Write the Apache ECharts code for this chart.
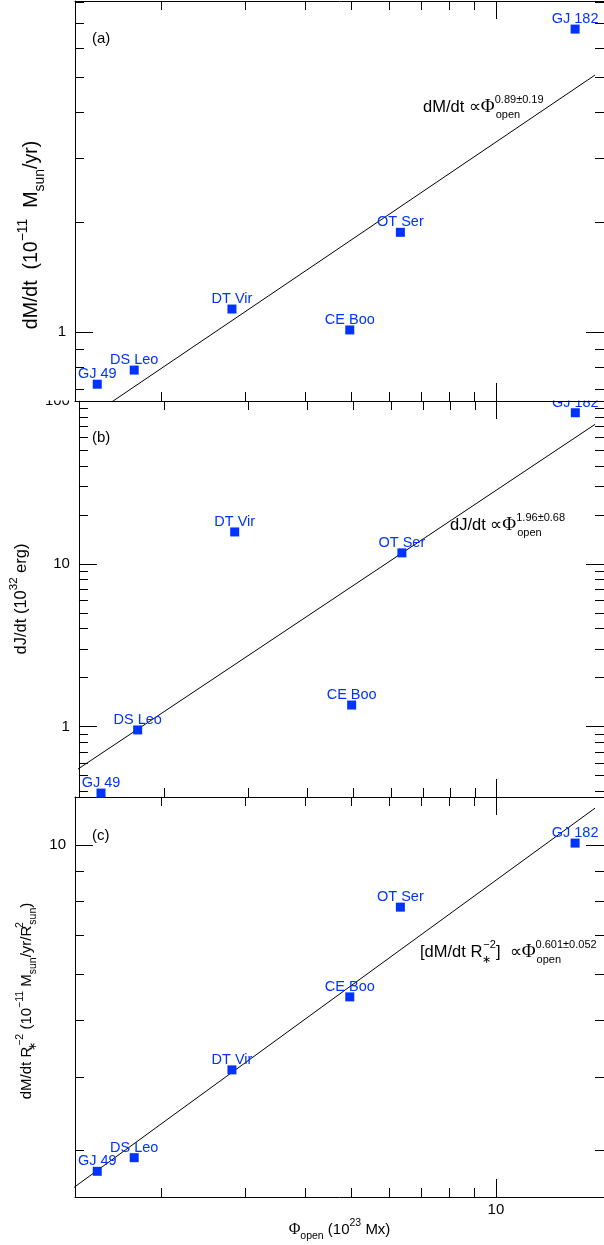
<!DOCTYPE html>
<html><head><meta charset="utf-8">
<script src="https://cdn.jsdelivr.net/npm/echarts@6/dist/echarts.min.js"></script>
<style>html,body{margin:0;padding:0;background:#fff}#c{width:604px;height:1245px}</style>
</head><body><div id="c"></div>
<script>
// ---------------- data ----------------
const stars = ['GJ 49', 'DS Leo', 'DT Vir', 'CE Boo', 'OT Ser', 'GJ 182'];
const phiOpen = [1.472, 1.758, 2.812, 4.954, 6.318, 14.63];          // 10^23 Mx
const massLoss = [0.721, 0.788, 1.158, 1.015, 1.878, 6.76];          // 10^-11 Msun/yr
const torque = [0.391, 0.955, 15.70, 1.358, 11.68, 84.7];            // 10^32 erg
const massLossPerArea = [2.756, 2.908, 4.113, 5.487, 7.82, 10.07];   // 10^-11 Msun/yr/Rsun^2
const fitMassLoss = [[1.30, 0.543], [16.1, 5.06]];
const fitTorque = [[1.30, 0.536], [16.1, 71.9]];
const fitMassLossPerArea = [[1.30, 2.567], [16.1, 11.56]];
const xRange = [1.3227, 16.81];
const yRanges = [[0.6486, 8.07], [0.370, 100], [2.490, 12.08]];
const xMajorTicks = [10];
const xMinorTicks = [2, 3, 4, 5, 6, 7, 8, 9];
const yMajorTicks = [[1], [1, 10, 100], [10]];
const yMinorTicks = [
  [0.7, 0.8, 0.9, 2, 3, 4, 5, 6, 7, 8],
  [0.4, 0.5, 0.6, 0.7, 0.8, 0.9, 2, 3, 4, 5, 6, 7, 8, 9, 20, 30, 40, 50, 60, 70, 80, 90],
  [3, 4, 5, 6, 7, 8, 9]
];
const panelLetters = ['(a)', '(b)', '(c)'];
const yTitles = [
  'dM/dt  (10{sup|\u221211}  M{sub|sun}/yr)',
  'dJ/dt (10{sup|32} erg)',
  'dM/dt R{subw|\u2217}{sup|\u22122} (10{sup|\u221211} M{sub|sun}/yr/R{supw|2}{sub|sun})'
];
const xTitle = '{phi|\u03a6}{sub|open} (10{sup|23} Mx)';
const fitTexts = [
  '{m|dM/dt \u221d}{phi|\u03a6}{supw|0.89\u00b10.19}{sub|open}',
  '{m|dJ/dt \u221d}{phi|\u03a6}{supw|1.96\u00b10.68}{sub|open}',
  '{m|[dM/dt R}{subw|\u2217}{sup|\u22122}{m|]  \u221d}{phi|\u03a6}{supw|0.601\u00b10.052}{sub|open}'
];

// ---------------- layout / style ----------------
const FONT = 'Liberation Sans, Arial, Helvetica, sans-serif';
const BLUE = '#0033ff';
const grids = [
  {left: 75, top: 1, width: 530, height: 400},
  {left: 75, top: 401, width: 530, height: 396},
  {left: 75, top: 797, width: 530, height: 400}
];
const yTitleSize = [[19.5, 14], [16.5, 11.5], [15, 10.5]];
const yNameGap = [21, 40, 35];
const yNamePad = [[0, 68, 0, 0], [0, 0, 0, 0], [0, 8, 0, 0]];
const fitPos = [[423, 107], [450, 525], [420, 952]];
const letterPos = [[92, 39], [92, 438], [92, 836]];

function richSet(big, small, phiSize) {
  const lh = Math.round(big * 1.6);
  const slh = Math.round(small * 1.05);
  return {
    m: {fontSize: big, fontFamily: FONT, color: '#000', fill: '#000', lineHeight: lh},
    phi: {fontSize: phiSize || big + 0.5, fontFamily: 'Liberation Serif, serif', color: '#000', fill: '#000', lineHeight: lh},
    sup: {fontSize: small, fontFamily: FONT, color: '#000', fill: '#000', lineHeight: slh, verticalAlign: 'top'},
    supw: {fontSize: small, fontFamily: FONT, color: '#000', fill: '#000', lineHeight: slh, verticalAlign: 'top', width: 1},
    sub: {fontSize: small, fontFamily: FONT, color: '#000', fill: '#000', lineHeight: slh, verticalAlign: 'bottom'},
    subw: {fontSize: small, fontFamily: FONT, color: '#000', fill: '#000', lineHeight: slh, verticalAlign: 'bottom', width: 1}
  };
}

const tickLine = {color: '#000', width: 1};
const xAxis = [], yAxis = [];
grids.forEach((g, i) => {
  const z = i === 0 ? 10 : 0;
  const bx = {gridIndex: i, type: 'log', logBase: 10, min: xRange[0], max: xRange[1], z: z,
    splitLine: {show: false}, axisLine: {show: false}, axisLabel: {show: false}, axisTick: {show: false}};
  xAxis.push(Object.assign({}, bx, {
    position: 'bottom',
    axisLine: {show: true, onZero: false, lineStyle: {color: '#000', width: 1}},
    axisTick: {show: true, inside: true, length: 18, customValues: xMajorTicks, lineStyle: tickLine},
    axisLabel: i === 2 ? {show: true, customValues: xMajorTicks, margin: 5, color: '#000', fontSize: 15, fontFamily: FONT} : {show: false},
    name: i === 2 ? xTitle : '',
    nameLocation: 'middle', nameGap: 18,
    nameTextStyle: {color: '#000', fontSize: 15, fontFamily: FONT, lineHeight: 24, rich: richSet(15, 10.5, 16)}
  }));
  xAxis.push(Object.assign({}, bx, {position: 'bottom',
    axisTick: {show: true, inside: true, length: 9, customValues: xMinorTicks, lineStyle: tickLine}}));
  xAxis.push(Object.assign({}, bx, {position: 'top',
    axisLine: {show: true, onZero: false, lineStyle: {color: '#000', width: 1}},
    axisTick: {show: true, inside: true, length: 18, customValues: xMajorTicks, lineStyle: tickLine}}));
  xAxis.push(Object.assign({}, bx, {position: 'top',
    axisTick: {show: true, inside: true, length: 9, customValues: xMinorTicks, lineStyle: tickLine}}));

  const by = {gridIndex: i, type: 'log', logBase: 10, min: yRanges[i][0], max: yRanges[i][1], z: z,
    splitLine: {show: false}, axisLine: {show: false}, axisLabel: {show: false}, axisTick: {show: false}};
  const ts = yTitleSize[i];
  yAxis.push(Object.assign({}, by, {
    position: 'left',
    axisLine: {show: true, onZero: false, lineStyle: {color: '#000', width: 1}},
    axisTick: {show: true, inside: true, length: 18, customValues: yMajorTicks[i], lineStyle: tickLine},
    axisLabel: {show: true, customValues: yMajorTicks[i], margin: 9, color: '#000', fontSize: 15, fontFamily: FONT},
    name: yTitles[i], nameLocation: 'middle', nameRotate: 90, nameGap: yNameGap[i],
    nameTextStyle: {color: '#000', fontSize: ts[0], fontFamily: FONT, lineHeight: Math.round(ts[0] * 1.6),
      padding: yNamePad[i], rich: richSet(ts[0], ts[1])}
  }));
  yAxis.push(Object.assign({}, by, {position: 'left',
    axisTick: {show: true, inside: true, length: 9, customValues: yMinorTicks[i], lineStyle: tickLine}}));
  yAxis.push(Object.assign({}, by, {position: 'right',
    axisLine: {show: true, onZero: false, lineStyle: {color: '#000', width: 1}},
    axisTick: {show: true, inside: true, length: 18, customValues: yMajorTicks[i], lineStyle: tickLine}}));
  yAxis.push(Object.assign({}, by, {position: 'right',
    axisTick: {show: true, inside: true, length: 9, customValues: yMinorTicks[i], lineStyle: tickLine}}));
});

const yData = [massLoss, torque, massLossPerArea];
const fits = [fitMassLoss, fitTorque, fitMassLossPerArea];
const series = [];
grids.forEach((g, i) => {
  const z = i === 0 ? 10 : 2;
  series.push({
    type: 'line', xAxisIndex: 4 * i, yAxisIndex: 4 * i, data: fits[i],
    symbol: 'none', showSymbol: false, clip: true, z: z, silent: true,
    lineStyle: {color: '#000', width: 1}
  });
  series.push({
    type: 'scatter', xAxisIndex: 4 * i, yAxisIndex: 4 * i, z: z + 1,
    data: phiOpen.map((x, k) => ({name: stars[k], value: [x, yData[i][k]]})),
    symbol: 'rect', symbolSize: 9, itemStyle: {color: BLUE, opacity: 1},
    label: {show: true, position: 'top', distance: -2, formatter: '{b}', color: BLUE,
      fontSize: 14.5, fontFamily: FONT, lineHeight: 15}
  });
});

const graphic = [
  {type: 'rect', shape: {x: 0, y: 0, width: 604, height: 400.5}, style: {fill: '#fff'}, z: 5, silent: true}
];
panelLetters.forEach((t, i) => {
  graphic.push({type: 'text', x: letterPos[i][0], y: letterPos[i][1], z: 12,
    style: {text: t, fill: '#000', font: '15px ' + FONT, align: 'left', verticalAlign: 'middle'}});
  graphic.push({type: 'text', x: fitPos[i][0], y: fitPos[i][1], z: 12,
    style: {text: fitTexts[i], fill: '#000', font: '16.5px ' + FONT, lineHeight: 26,
      align: 'left', verticalAlign: 'middle', rich: richSet(16.5, 11, 19)}});
});

const chart = echarts.init(document.getElementById('c'), null, {renderer: 'canvas'});
chart.setOption({
  animation: false,
  backgroundColor: '#fff',
  grid: grids,
  xAxis: xAxis,
  yAxis: yAxis,
  series: series,
  graphic: graphic
});
</script>
</body></html>
